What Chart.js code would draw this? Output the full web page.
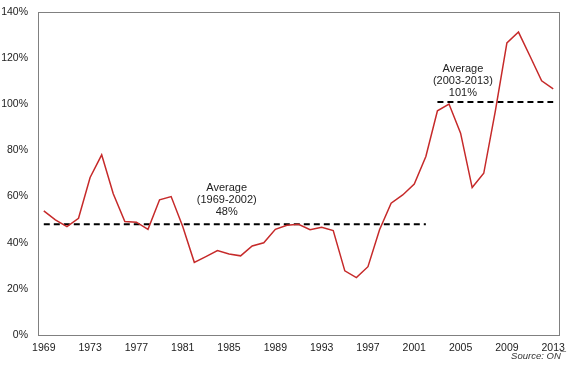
<!DOCTYPE html>
<html>
<head>
<meta charset="utf-8">
<script src="https://cdn.jsdelivr.net/npm/chart.js@4/dist/chart.umd.min.js"></script>
<style>
  html, body { margin: 0; padding: 0; background: #fff; }
  #wrap { width: 570px; height: 371px; position: relative; }
</style>
</head>
<body>
<div id="wrap"><canvas id="chart"></canvas></div>
<script>
// Years on the x axis
const years = [];
for (let y = 1969; y <= 2013; y++) years.push(String(y));

// Ratio (%), one value per year
const ratio = [
  53.8, 49.9, 47.0, 50.6, 68.3, 78.1, 61.2, 49.2, 48.9, 45.8,
  58.6, 60.0, 47.0, 31.5, 34.0, 36.6, 35.1, 34.3, 38.6, 40.0,
  45.8, 47.6, 48.0, 45.6, 46.7, 45.3, 27.8, 24.9, 29.6, 45.6,
  57.1, 60.7, 65.4, 77.4, 97.2, 100.1, 87.5, 63.9, 70.1, 97.0,
  126.6, 131.3, 120.8, 110.2, 106.7
];

// Period averages
const avgPeriods = [
  { from: '1969', to: '2002', value: 48 },
  { from: '2003', to: '2013', value: 101 }
];

const yTicks = [0, 20, 40, 60, 80, 100, 120, 140];

function avgSeries(p) {
  const a = years.indexOf(p.from), b = years.indexOf(p.to);
  return years.map((y, i) => (i >= a && i <= b) ? p.value : null);
}

const FONT = '"Liberation Sans", Arial, sans-serif';

// box around the plot area + average labels + source note
const extras = {
  id: 'extras',
  afterDraw(chart) {
    const ctx = chart.ctx;
    const area = chart.chartArea;
    const x = chart.scales.x, y = chart.scales.y;
    ctx.save();
    ctx.strokeStyle = '#808080';
    ctx.lineWidth = 1;
    ctx.strokeRect(Math.round(area.left) + 0.5, Math.round(area.top) + 0.5,
      Math.round(area.right - area.left), Math.round(area.bottom - area.top));

    ctx.fillStyle = '#222';
    ctx.font = '11px ' + FONT;
    ctx.textAlign = 'center';
    ctx.textBaseline = 'middle';
    const labels = [
      { at: 15.8, top: 63.8, p: avgPeriods[0] },
      { at: 36.2, top: 115.4, p: avgPeriods[1] }
    ];
    labels.forEach(l => {
      const cx = x.getPixelForValue(l.at);
      const ty = y.getPixelForValue(l.top);
      ctx.fillText('Average', cx, ty);
      ctx.fillText('(' + l.p.from + '-' + l.p.to + ')', cx, ty + 12);
      ctx.fillText(l.p.value + '%', cx, ty + 24);
    });

    ctx.font = 'italic 9.5px ' + FONT;
    ctx.textAlign = 'right';
    ctx.fillStyle = '#333';
    ctx.fillText('Source: ON\u00AF', 566, 356);
    ctx.restore();
  }
};

new Chart(document.getElementById('chart'), {
  type: 'line',
  data: {
    labels: years,
    datasets: [
      {
        label: 'Ratio',
        data: ratio,
        borderColor: '#c62a2a',
        borderWidth: 1.5,
        pointRadius: 0,
        tension: 0
      },
      ...avgPeriods.map(p => ({
        label: 'Average ' + p.from + '-' + p.to,
        data: avgSeries(p),
        borderColor: '#000',
        borderWidth: 2,
        borderDash: [6, 4],
        pointRadius: 0,
        spanGaps: false
      }))
    ]
  },
  options: {
    responsive: true,
    maintainAspectRatio: false,
    animation: false,
    layout: { padding: { top: 12, right: 11, left: 0, bottom: 0 } },
    plugins: { legend: { display: false }, tooltip: { enabled: false } },
    scales: {
      x: {
        offset: true,
        grid: { display: false, drawTicks: false },
        border: { display: false },
        ticks: {
          autoSkip: false,
          maxRotation: 0,
          padding: 7,
          color: '#222',
          font: { family: FONT, size: 10.5 },
          callback: function(v, i) { return i % 4 === 0 ? years[i] : null; }
        },
        afterFit: function(s) { s.height = 36; s.paddingLeft = 0; s.paddingRight = 0; }
      },
      y: {
        min: 0,
        max: 140,
        afterBuildTicks: function(s) { s.ticks = yTicks.map(v => ({ value: v })); },
        grid: { display: false, drawTicks: false },
        border: { display: false },
        ticks: {
          padding: 10,
          color: '#222',
          font: { family: FONT, size: 10.5 },
          callback: v => v + '%'
        },
        afterFit: function(s) { s.width = 38; s.paddingTop = 0; s.paddingBottom = 0; }
      }
    }
  },
  plugins: [extras]
});
</script>
</body>
</html>
